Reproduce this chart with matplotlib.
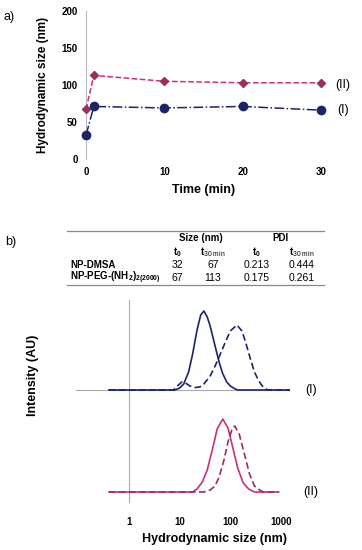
import numpy as np
import matplotlib
matplotlib.use("Agg")
from matplotlib import pyplot as plt
from matplotlib.lines import Line2D

plt.rcParams['font.family'] = ['Liberation Sans', 'DejaVu Sans']
plt.rcParams['mathtext.fontset'] = 'custom'
plt.rcParams['mathtext.rm'] = 'Liberation Sans'
plt.rcParams['mathtext.it'] = 'Liberation Sans:italic'
plt.rcParams['mathtext.bf'] = 'Liberation Sans:bold'

# a) hydrodynamic size vs time
time_min = [0, 1, 10, 20, 30]
size_dmsa = [32, 71, 69, 71, 66]       # (I)
size_peg = [67, 113, 105, 103, 103]    # (II)

# b) table
tab_rows = ["NP-DMSA", "NP-PEG-(NH$_\\mathbf{2}$)$_\\mathbf{2(2000)}$"]
tab_size_t0 = ["32", "67"]
tab_size_t30 = ["67", "113"]
tab_pdi_t0 = ["0.213", "0.175"]
tab_pdi_t30 = ["0.444", "0.261"]

# b) DLS intensity distributions (read off the picture)
dmsa_t0_x = [0.4, 8, 9, 10, 12, 15, 18, 22, 26, 30, 35, 40, 50, 60, 70, 85, 100, 120, 140, 1500]
dmsa_t0_y = [0, 0, 1, 2, 6, 18, 36, 60, 75, 79, 73, 64, 44, 28, 17, 8, 4, 1.5, 0, 0]
dmsa_t30_x = [0.4, 7.5, 9, 11, 13, 16, 20, 25, 30, 40, 50, 60, 80, 100, 135, 170, 200, 250, 300, 350, 400, 450, 550, 1500]
dmsa_t30_y = [0, 0, 4, 8, 7, 4, 2.5, 3, 6, 14, 24, 33, 48, 59, 65, 59, 48, 31, 18, 11, 6, 3, 0, 0]
peg_t0_x = [0.4, 18, 22, 28, 35, 45, 55, 71, 90, 110, 140, 180, 230, 300, 900]
peg_t0_y = [0, 0, 3, 10, 22, 44, 63, 73, 64, 46, 24, 9, 3, 0, 0]
peg_t30_x = [0.4, 30, 40, 50, 60, 75, 90, 110, 123, 150, 190, 240, 300, 380, 450, 900]
peg_t30_y = [0, 0, 2, 6, 15, 32, 50, 64, 66, 58, 38, 18, 6, 2, 0, 0]

navy = '#1c2468'
pink = '#c8307c'
plum = '#9a2e5e'

W, H = 362, 550
def fx(x):
    return x / W
def fy(y):
    return 1 - y / H

fig = plt.figure(figsize=(3.62, 5.5), dpi=100)

# ---- panel a
ax = fig.add_axes([fx(86), fy(159), (321 - 86) / W, (159 - 11) / H])
ax.plot(time_min, size_peg, linestyle='--', color=pink, marker='D', markersize=4,
        markerfacecolor=plum, markeredgecolor=plum, lw=1.1, clip_on=False, zorder=3)
ax.plot(time_min, size_dmsa, linestyle='-.', color=navy, marker='o', markersize=6,
        lw=1.1, clip_on=False, zorder=3)
ax.set_xlim(0, 30)
ax.set_ylim(0, 200)
ax.set_xticks([0, 10, 20, 30])
ax.set_yticks([0, 50, 100, 150, 200])
for s in ['top', 'right', 'bottom']:
    ax.spines[s].set_visible(False)
ax.spines['left'].set_color('#bbbbbb')
ax.tick_params(length=0, labelsize=7, pad=6)
for lab in ax.get_xticklabels() + ax.get_yticklabels():
    lab.set_fontweight('bold')
ax.set_xlabel("Time (min)", fontsize=9, fontweight='bold', labelpad=5)
ax.set_ylabel("Hydrodynamic size (nm)", fontsize=8.5, fontweight='bold', labelpad=9)
fig.text(fx(343), fy(85), "(II)", fontsize=9, ha='center', va='center')
fig.text(fx(343), fy(110), "(I)", fontsize=9, ha='center', va='center')
fig.text(fx(9), fy(17), "a)", fontsize=9, ha='center', va='center')

# ---- table b
fig.text(fx(11), fy(242), "b)", fontsize=9, ha='center', va='center')
for yy in [231, 285]:
    fig.add_artist(Line2D([fx(67), fx(324)], [fy(yy), fy(yy)], color='#888888', lw=0.9))
fs = 7
fig.text(fx(201), fy(238), "Size (nm)", fontsize=fs, fontweight='bold', ha='center', va='center')
fig.text(fx(280), fy(238), "PDI", fontsize=fs, fontweight='bold', ha='center', va='center')
for xx in [177, 256]:
    fig.text(fx(xx), fy(252), "$\\mathbf{t}_{\\mathbf{0}}$", fontsize=fs, ha='center', va='center')
for xx in [213, 302]:
    fig.text(fx(xx), fy(252), "$\\mathbf{t}_{\\mathrm{30\\ min}}$", fontsize=fs, ha='center', va='center')
for i, yy in enumerate([265, 278]):
    fig.text(fx(70), fy(yy), tab_rows[i], fontsize=fs, fontweight='bold', ha='left', va='center')
    fig.text(fx(177), fy(yy), tab_size_t0[i], fontsize=fs + 0.5, ha='center', va='center')
    fig.text(fx(213), fy(yy), tab_size_t30[i], fontsize=fs + 0.5, ha='center', va='center')
    fig.text(fx(257), fy(yy), tab_pdi_t0[i], fontsize=fs + 0.5, ha='center', va='center')
    fig.text(fx(302), fy(yy), tab_pdi_t30[i], fontsize=fs + 0.5, ha='center', va='center')

# ---- panel b distributions
offset = 102
bx = fig.add_axes([fx(76), fy(503), (290 - 76) / W, (503 - 300) / H])
bx.set_xscale('log')
bx.set_xlim(10 ** -1.05, 10 ** 3.18)
bx.set_ylim(-11, 192)
bx.axvline(1, color='#aaaaaa', lw=0.8)
bx.axhline(offset, color='#aaaaaa', lw=0.8)
bx.plot(dmsa_t0_x, np.array(dmsa_t0_y) + offset, color=navy, lw=1.2)
bx.plot(dmsa_t30_x, np.array(dmsa_t30_y) + offset, color=navy, lw=1.2, ls=(0, (4, 2)))
bx.plot(peg_t0_x, peg_t0_y, color=pink, lw=1.2)
bx.plot(peg_t30_x, peg_t30_y, color=plum, lw=1.2, ls=(0, (4, 2)))
for s in bx.spines.values():
    s.set_visible(False)
bx.set_yticks([])
bx.set_xticks([1, 10, 100, 1000])
bx.set_xticklabels(['1', '10', '100', '1000'], fontweight='bold')
bx.minorticks_off()
bx.tick_params(length=0, labelsize=7, pad=10)
fig.text(fx(215), fy(539), "Hydrodynamic size (nm)", fontsize=9, fontweight='bold', ha='center', va='center')
fig.text(fx(33), fy(375), "Intensity (AU)", fontsize=9, fontweight='bold', ha='center', va='center', rotation=90)
fig.text(fx(311), fy(390), "(I)", fontsize=9, ha='center', va='center')
fig.text(fx(311), fy(492), "(II)", fontsize=9, ha='center', va='center')

fig.savefig("out.png", dpi=100)
